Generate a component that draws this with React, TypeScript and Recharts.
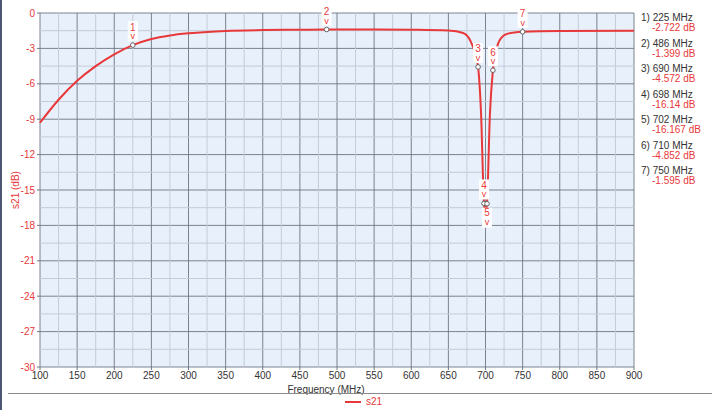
import {
  LineChart,
  Line,
  XAxis,
  YAxis,
  CartesianGrid,
  ReferenceLine,
  ReferenceDot,
} from 'recharts';

const freqs = [100, 125, 150, 175, 200, 225, 250, 275, 300, 325, 350, 400, 450, 486, 550, 600, 650, 670, 680, 685, 690, 694, 698, 700, 702, 706, 710, 715, 720, 730, 750, 800, 900];
const s21 = [-9.3, -7.35, -5.75, -4.5, -3.5, -2.722, -2.2, -1.9, -1.72, -1.6, -1.52, -1.45, -1.42, -1.399, -1.4, -1.42, -1.48, -1.7, -2.4, -3.2, -4.572, -8.5, -16.14, -17, -16.167, -8.5, -4.852, -3.0, -2.2, -1.75, -1.595, -1.52, -1.5];

const markerFreqs = [225, 486, 690, 698, 702, 710, 750];
const markerDb = [-2.722, -1.399, -4.572, -16.14, -16.167, -4.852, -1.595];
const markerLabels = ['-2.722 dB', '-1.399 dB', '-4.572 dB', '-16.14 dB', '-16.167 dB', '-4.852 dB', '-1.595 dB'];

const xTicks = [100, 150, 200, 250, 300, 350, 400, 450, 500, 550, 600, 650, 700, 750, 800, 850, 900];
const xMinor = [125, 175, 225, 275, 325, 375, 425, 475, 525, 575, 625, 675, 725, 775, 825, 875];
const yTicks = [0, -3, -6, -9, -12, -15, -18, -21, -24, -27, -30];
const yMinor = [-1.5, -4.5, -7.5, -10.5, -13.5, -16.5, -19.5, -22.5, -25.5, -28.5];

const data = freqs.map((f, i) => ({ f, s21: s21[i] }));

const RED = '#e8383a';
const FONT = '"Liberation Sans", Arial, sans-serif';

function MarkerGlyph({ cx, cy, n, below }: any) {
  const numY = below ? cy + 9 : cy - 18;
  const vY = below ? cy + 18 : cy - 9;
  const top = below ? cy + 4 : cy - 24;
  return (
    <g>
      <rect x={cx - 5} y={top} width={10} height={20} fill="#fff" />
      <text x={cx} y={numY} textAnchor="middle" dominantBaseline="central" fontSize={10} fill={RED} fontFamily={FONT}>
        {n}
      </text>
      <text x={cx} y={vY} textAnchor="middle" dominantBaseline="central" fontSize={9} fill={RED} fontFamily={FONT}>
        v
      </text>
      <circle cx={cx} cy={cy} r={2.3} fill="#fff" stroke="#666" strokeWidth={1} />
    </g>
  );
}

export default function App() {
  return (
    <div style={{ position: 'absolute', left: 0, top: 0, width: 727, height: 410, background: '#fff', fontFamily: FONT }}>
      <div style={{ position: 'absolute', left: 0, top: 0, width: 2, height: 410, background: '#4d5673' }} />
      <LineChart width={727} height={410} data={data} margin={{ top: 13, right: 93, left: 0, bottom: 0 }}>
        <CartesianGrid fill="#e8f0fb" stroke="#6f7684" strokeOpacity={0.9} verticalValues={xTicks} horizontalValues={yTicks} />
        {xMinor.map((v) => (
          <ReferenceLine key={'vx' + v} x={v} stroke="#c3ccd8" strokeWidth={1} />
        ))}
        {yMinor.map((v) => (
          <ReferenceLine key={'hy' + v} y={v} stroke="#c3ccd8" strokeWidth={1} />
        ))}
        <XAxis
          type="number"
          dataKey="f"
          domain={[100, 900]}
          ticks={xTicks}
          height={43}
          axisLine={false}
          tickLine={{ stroke: '#6f7684' }}
          tickSize={3}
          tick={{ fontSize: 10, fill: '#333', fontFamily: FONT }}
          label={{ value: 'Frequency (MHz)', position: 'insideBottom', offset: 17, dx: -11, fontSize: 10, fill: '#333', fontFamily: FONT }}
        />
        <YAxis
          type="number"
          domain={[-30, 0]}
          ticks={yTicks}
          width={40}
          axisLine={false}
          tickLine={{ stroke: '#6f7684' }}
          tickSize={3}
          tick={{ fontSize: 10, fill: RED, fontFamily: FONT }}
          label={{ value: 's21 (dB)', angle: -90, position: 'insideLeft', offset: 15, fontSize: 10, fill: RED, fontFamily: FONT, style: { textAnchor: 'middle' } }}
        />
        <Line type="monotone" dataKey="s21" stroke={RED} strokeWidth={2} dot={false} isAnimationActive={false} />
        {markerFreqs.map((f, i) => (
          <ReferenceDot
            key={'m' + i}
            x={f}
            y={markerDb[i]}
            r={2}
            shape={(p: any) => <MarkerGlyph cx={p.cx} cy={p.cy} n={i + 1} below={i === 4} />}
          />
        ))}
      </LineChart>
      <div style={{ position: 'absolute', left: 641, top: 13, fontSize: 10, lineHeight: '10px' }}>
        {markerFreqs.map((f, i) => (
          <div key={'l' + i} style={{ height: 25.5 }}>
            <div style={{ color: '#333' }}>{`${i + 1}) ${f} MHz`}</div>
            <div style={{ color: RED, paddingLeft: 11 }}>{markerLabels[i]}</div>
          </div>
        ))}
      </div>
      <div style={{ position: 'absolute', left: 8, top: 393, width: 704, height: 1, background: '#8a8a8a' }} />
      <div style={{ position: 'absolute', left: 345, top: 396, display: 'flex', alignItems: 'center', fontSize: 10, color: RED }}>
        <div style={{ width: 16, height: 2, background: RED, marginRight: 5 }} />
        <span>s21</span>
      </div>
    </div>
  );
}
